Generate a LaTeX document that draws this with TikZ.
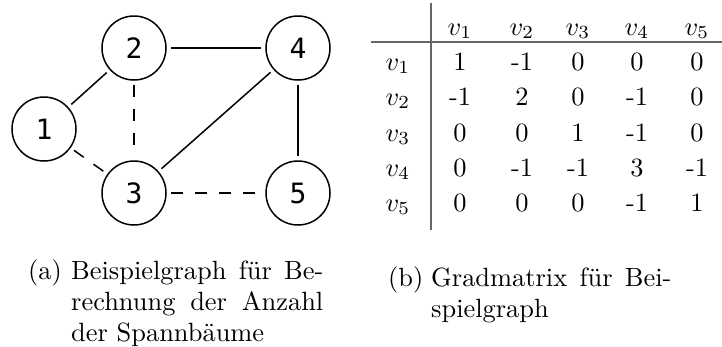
\documentclass[tikz,border=0pt]{standalone}
\usepackage{fontspec}
\usepackage{graphicx}
\setmainfont{lmroman10-regular.otf}
\newfontfamily\nodefont{DejaVu Sans Mono}
\newcommand\sbx[1]{\scalebox{2.64}{#1}}
\begin{document}
\begin{tikzpicture}[x=1pt,y=-1pt,
  vert/.style={draw,circle,line width=1.5pt,minimum size=64pt,inner sep=0pt,font=\nodefont\fontsize{28}{30}\selectfont},
  edge/.style={line width=1.5pt,shorten <=4pt,shorten >=4pt},
  dedge/.style={edge,dash pattern=on 12pt off 12pt},
  tab/.style={anchor=base,inner sep=0pt},
  tabrule/.style={line width=1.5pt,draw=black!60},
  captxt/.style={anchor=base west,inner sep=0pt}]
\useasboundingbox (0,0) rectangle (722,346);
% graph
\node[vert] (n1) at (44,129) {1};
\node[vert] (n2) at (134,48) {2};
\node[vert] (n3) at (134,193) {3};
\node[vert] (n4) at (298,48) {4};
\node[vert] (n5) at (298,193) {5};
\draw[edge] (n1) -- (n2);
\draw[edge] (n2) -- (n4);
\draw[edge] (n3) -- (n4);
\draw[edge] (n4) -- (n5);
\draw[dedge] (n2) -- (n3);
\draw[dedge] (n1) -- (n3);
\draw[dedge] (n3) -- (n5);
% table
\coordinate (vt) at (431,3);
\coordinate (vb) at (431,230);
\coordinate (hl) at (371,42);
\coordinate (hr) at (722,42);
\draw[tabrule] (vt) -- (vb);
\draw[tabrule] (hl) -- (hr);
\foreach \c/\x in {1/460,2/522,3/578,4/637,5/697}
  \node[tab] (h\c) at (\x,35) {\sbx{$v_{\c}$}};
\foreach \r/\y/\entries in {1/70/{1,-1,0,0,0},2/105/{-1,2,0,-1,0},3/141/{0,0,1,-1,0},4/176/{0,-1,-1,3,-1},5/211/{0,0,0,-1,1}}{
  \node[tab] (r\r) at (398,\y) {\sbx{$v_{\r}$}};
  \foreach \e [count=\c] in \entries {
    \pgfmathsetmacro{\xx}{{460,522,578,637,697}[\c-1]}
    \node[tab] (e\r\c) at (\xx,\y) {\sbx{\e}};
  }
}
% captions
\node[captxt] (capa) at (28,279) {\sbx{(a)}};
\node[captxt] (capa1) at (71,279) {\sbx{\makebox[95.5pt][s]{Beispielgraph für Be-}}};
\node[captxt] (capa2) at (71,310) {\sbx{\makebox[95.5pt][s]{rechnung der Anzahl}}};
\node[captxt] (capa3) at (71,341) {\sbx{der Spannbäume}};
\node[captxt] (capb) at (388,286) {\sbx{(b)}};
\node[captxt] (capb1) at (431,286) {\sbx{\makebox[91pt][s]{Gradmatrix für Bei-}}};
\node[captxt] (capb2) at (431,317) {\sbx{spielgraph}};
\end{tikzpicture}
\end{document}
